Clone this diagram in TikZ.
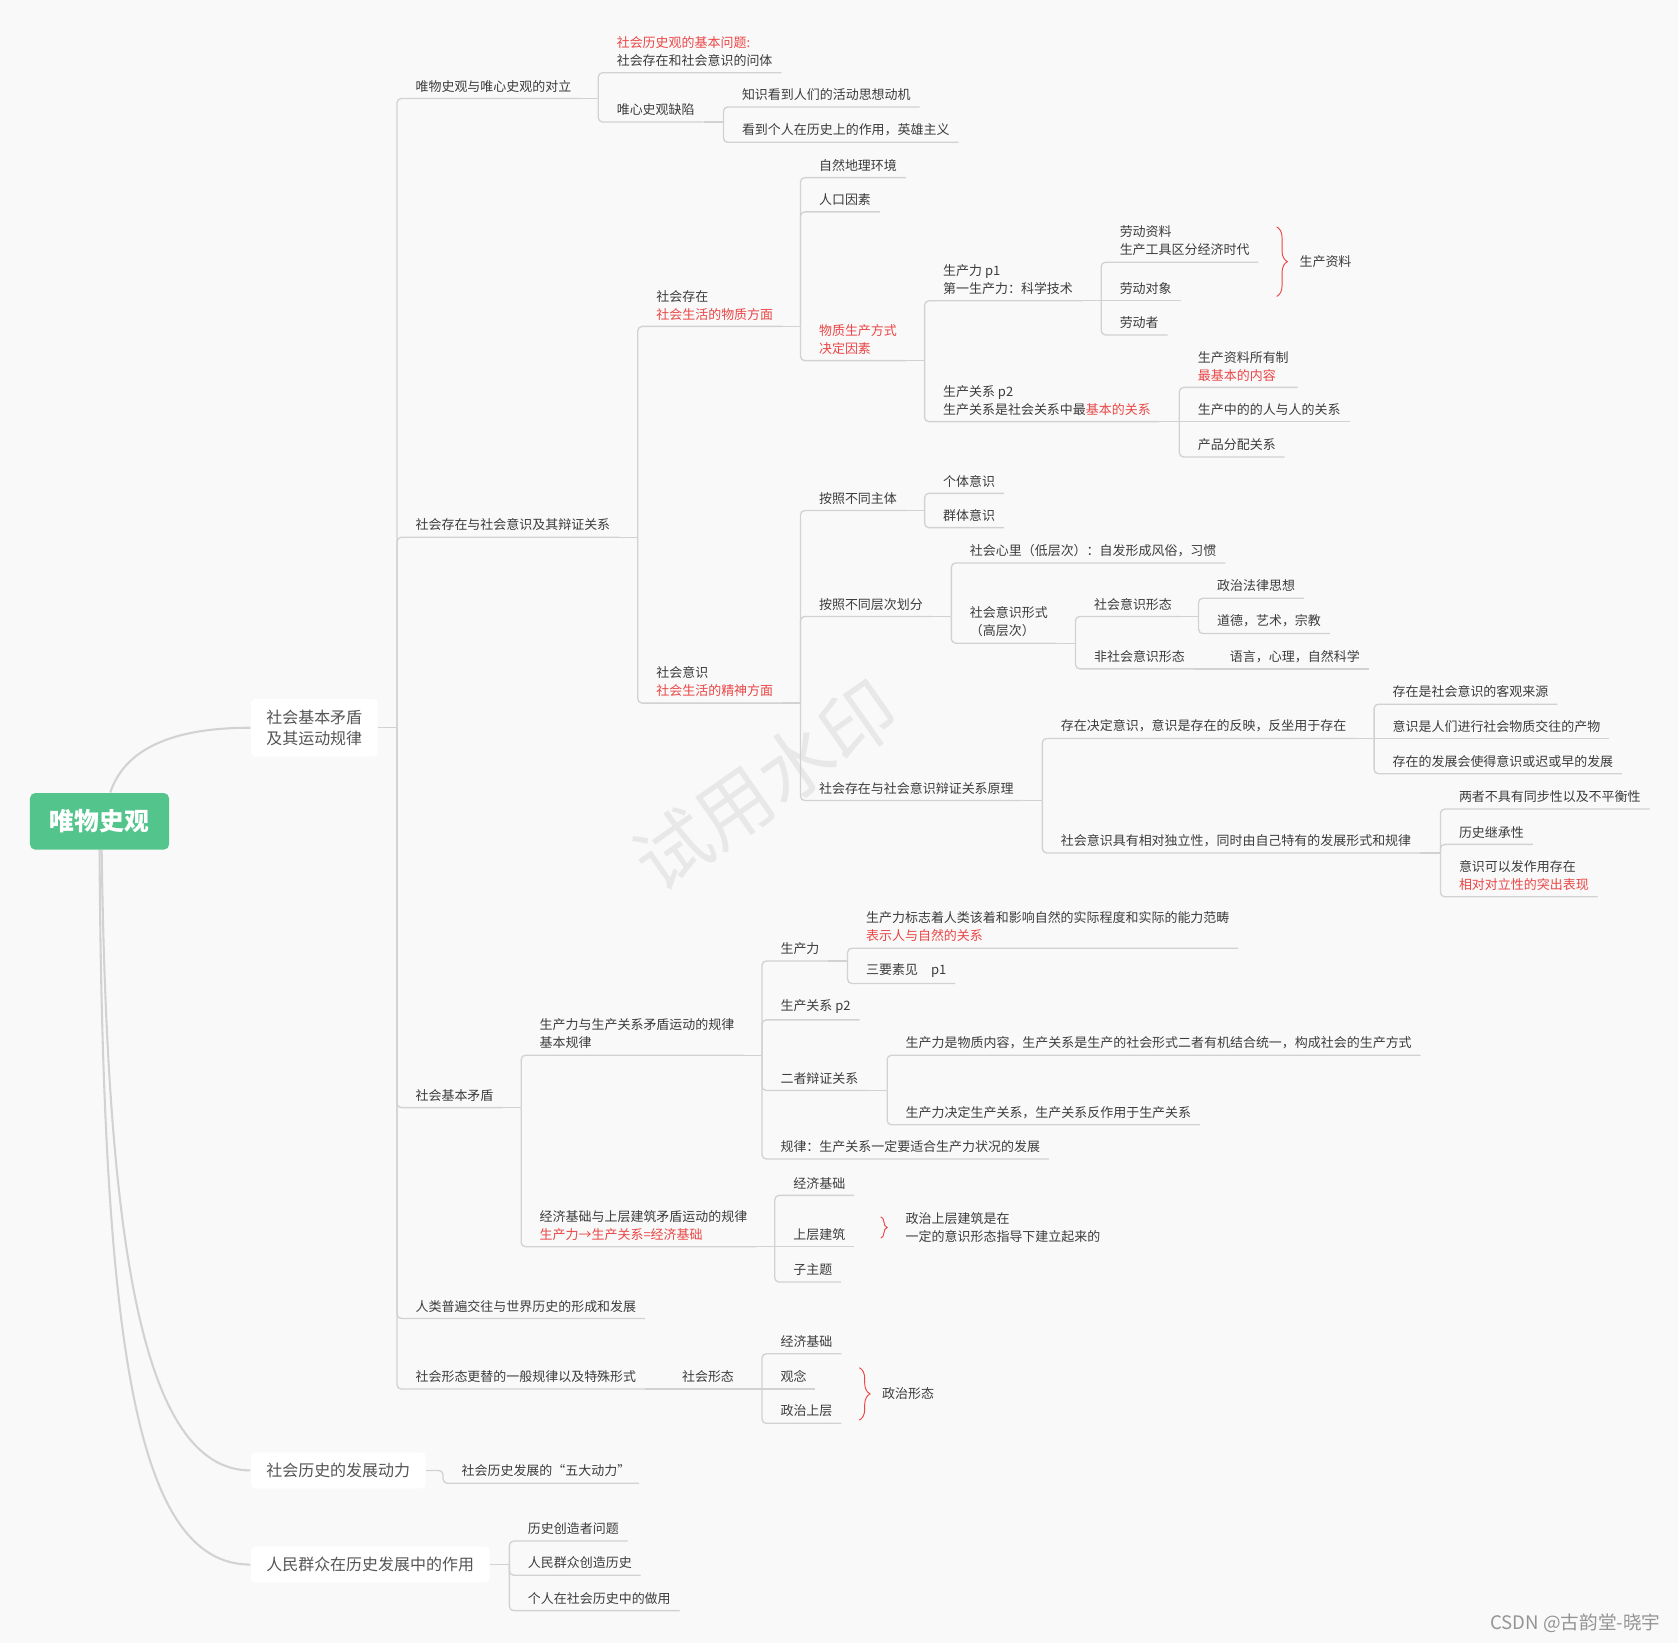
\documentclass[tikz,border=0pt]{standalone}
\usepackage{fontspec}
\setmainfont{Noto Sans CJK SC}
\usepackage{tikz}
\usetikzlibrary{decorations.pathreplacing}
\definecolor{bgc}{RGB}{249,249,249}
\definecolor{txt}{RGB}{60,60,60}
\definecolor{toptxt}{RGB}{85,85,85}
\definecolor{hl}{RGB}{234,70,70}
\definecolor{lnc}{RGB}{210,210,210}
\definecolor{rootc}{RGB}{82,196,140}
\newcommand{\redtxt}[1]{\textcolor{hl}{#1}}

\begin{document}
\begin{tikzpicture}[x=0.02cm,y=-0.02cm,
 root/.style={fill=rootc,rounded corners=0.1cm,text=white,minimum width=2.6cm,minimum height=1.06cm,font=\fontsize{13.2}{13.2}\selectfont\bfseries},
 topic/.style={anchor=west,fill=white,rounded corners=0.08cm,inner xsep=0.29cm,inner ysep=0.2cm,align=center,text=toptxt,font=\fontsize{8.5}{11.4}\selectfont},
 item/.style={anchor=south west,inner xsep=0.16cm,inner ysep=0.11cm,align=left,text=txt,font=\fontsize{6.9}{9.6}\selectfont},
 note/.style={anchor=west,inner xsep=0.16cm,align=left,text=txt,font=\fontsize{6.9}{9.6}\selectfont},
 link/.style={draw=lnc,line width=0.7pt,rounded corners=0.08cm},
 trunk/.style={draw=lnc,line width=1.1pt},
 brc/.style={draw=hl,line width=0.5pt,decorate,decoration={brace,amplitude=0.2cm}}]
\useasboundingbox (0,0) rectangle (1568,1535);
\fill [bgc] (0,0) rectangle (1568,1535);

\node [rotate=35,text=black!9,font=\fontsize{40}{40}\selectfont] (WM) at (715,734) {试用水印};

% main topics
\node [root] (R) at (93,767.5) {唯物史观};
\node [topic] (A) at (234,680) {社会基本矛盾\\及其运动规律};
\node [topic] (B) at (234,1374) {社会历史的发展动力};
\node [topic] (C) at (234,1462) {人民群众在历史发展中的作用};
\draw [trunk] (R.north) ++(10,0) .. controls +(15,-45) and +(-65,0) .. (A.west);
\draw [trunk] (R.south) ++(2,0) .. controls +(5,356) and +(-104,0) .. (B.west);
\draw [trunk] (R.south) .. controls +(3,456) and +(-109,0) .. (C.west);

% junctions
\coordinate (JA) at (371,680);
\coordinate (JA1) at (559,92);
\coordinate (JA12) at (676,114);
\coordinate (JA2) at (596,502);
\coordinate (JA21) at (748,305);
\coordinate (JA213) at (864,337);
\coordinate (JA2131) at (1029,281);
\coordinate (JA2132) at (1102,394);
\coordinate (JA22) at (748,657);
\coordinate (JA221) at (864,477);
\coordinate (JA222) at (889,576);
\coordinate (JA2222) at (1005,601);
\coordinate (JA22221) at (1120,576);
\coordinate (JA22222) at (1132,625);
\coordinate (JA223) at (974,748);
\coordinate (JA2231) at (1284,690);
\coordinate (JA2232) at (1346,797);
\coordinate (JA3) at (487,1035);
\coordinate (JA31) at (712,986);
\coordinate (JA311) at (792,898);
\coordinate (JA313) at (829,1019);
\coordinate (JA32) at (724,1165);
\coordinate (JA5) at (620,1298);
\coordinate (JA51) at (712,1298);
\coordinate (JB) at (414,1374);
\coordinate (JC) at (476,1462);

% 社会基本矛盾及其运动规律
\node [item] (A1) at (380,92) {唯物史观与唯心史观的对立};
\node [item] (A2) at (380,502) {社会存在与社会意识及其辩证关系};
\node [item] (A3) at (380,1035) {社会基本矛盾};
\node [item] (A4) at (380,1232) {人类普遍交往与世界历史的形成和发展};
\node [item] (A5) at (380,1298) {社会形态更替的一般规律以及特殊形式};
\draw [link] (A.east) -- (JA);
\draw [link] (JA) |- (A1.south west) -- (A1.south east);
\draw [link] (JA) |- (A2.south west) -- (A2.south east);
\draw [link] (JA) |- (A3.south west) -- (A3.south east);
\draw [link] (JA) |- (A4.south west) -- (A4.south east);
\draw [link] (JA) |- (A5.south west) -- (A5.south east);

\node [item] (A11) at (568,68) {\redtxt{社会历史观的基本问题:}\\社会存在和社会意识的问体};
\node [item] (A12) at (568,114) {唯心史观缺陷};
\node [item] (A121) at (685,100) {知识看到人们的活动思想动机};
\node [item] (A122) at (685,133) {看到个人在历史上的作用，英雄主义};
\draw [link] (A1.south east) -- (JA1);
\draw [link] (JA1) |- (A11.south west) -- (A11.south east);
\draw [link] (JA1) |- (A12.south west) -- (A12.south east);
\draw [link] (A12.south east) -- (JA12);
\draw [link] (JA12) |- (A121.south west) -- (A121.south east);
\draw [link] (JA12) |- (A122.south west) -- (A122.south east);

% 社会存在
\node [item] (A21) at (605,305) {社会存在\\\redtxt{社会生活的物质方面}};
\node [item] (A22) at (605,657) {社会意识\\\redtxt{社会生活的精神方面}};
\draw [link] (A2.south east) -- (JA2);
\draw [link] (JA2) |- (A21.south west) -- (A21.south east);
\draw [link] (JA2) |- (A22.south west) -- (A22.south east);

\node [item] (A211) at (757,166) {自然地理环境};
\node [item] (A212) at (757,198) {人口因素};
\node [item] (A213) at (757,337) {\redtxt{物质生产方式}\\\redtxt{决定因素}};
\draw [link] (A21.south east) -- (JA21);
\draw [link] (JA21) |- (A211.south west) -- (A211.south east);
\draw [link] (JA21) |- (A212.south west) -- (A212.south east);
\draw [link] (JA21) |- (A213.south west) -- (A213.south east);

\node [item] (A2131) at (873,281) {生产力 p1\\第一生产力：科学技术};
\node [item] (A2132) at (873,394) {生产关系 p2\\生产关系是社会关系中最\redtxt{基本的关系}};
\draw [link] (A213.south east) -- (JA213);
\draw [link] (JA213) |- (A2131.south west) -- (A2131.south east);
\draw [link] (JA213) |- (A2132.south west) -- (A2132.south east);

\node [item] (A21311) at (1038,245) {劳动资料\\生产工具区分经济时代};
\node [item] (A21312) at (1038,281) {劳动对象};
\node [item] (A21313) at (1038,313) {劳动者};
\draw [link] (A2131.south east) -- (JA2131);
\draw [link] (JA2131) |- (A21311.south west) -- (A21311.south east);
\draw [link] (JA2131) -- (A21312.south east);
\draw [link] (JA2131) |- (A21313.south west) -- (A21313.south east);
\coordinate (BR1a) at (1193,212);
\coordinate (BR1b) at (1193,277);
\draw [brc] (BR1a) -- (BR1b);
\node [note] (A2131z) at (1206,244) {生产资料};

\node [item] (A21321) at (1111,362) {生产资料所有制\\\redtxt{最基本的内容}};
\node [item] (A21322) at (1111,394) {生产中的的人与人的关系};
\node [item] (A21323) at (1111,427) {产品分配关系};
\draw [link] (A2132.south east) -- (JA2132);
\draw [link] (JA2132) |- (A21321.south west) -- (A21321.south east);
\draw [link] (JA2132) -- (A21322.south east);
\draw [link] (JA2132) |- (A21323.south west) -- (A21323.south east);

% 社会意识
\node [item] (A221) at (757,477) {按照不同主体};
\node [item] (A222) at (757,576) {按照不同层次划分};
\node [item] (A223) at (757,748) {社会存在与社会意识辩证关系原理};
\draw [link] (A22.south east) -- (JA22);
\draw [link] (JA22) |- (A221.south west) -- (A221.south east);
\draw [link] (JA22) |- (A222.south west) -- (A222.south east);
\draw [link] (JA22) |- (A223.south west) -- (A223.south east);

\node [item] (A2211) at (873,461) {个体意识};
\node [item] (A2212) at (873,493) {群体意识};
\draw [link] (A221.south east) -- (JA221);
\draw [link] (JA221) |- (A2211.south west) -- (A2211.south east);
\draw [link] (JA221) |- (A2212.south west) -- (A2212.south east);

\node [item] (A2221) at (898,526) {社会心里（低层次）：自发形成风俗，习惯};
\node [item] (A2222) at (898,601) {社会意识形式\\（高层次）};
\draw [link] (A222.south east) -- (JA222);
\draw [link] (JA222) |- (A2221.south west) -- (A2221.south east);
\draw [link] (JA222) |- (A2222.south west) -- (A2222.south east);

\node [item] (A22221) at (1014,576) {社会意识形态};
\node [item] (A22222) at (1014,625) {非社会意识形态};
\draw [link] (A2222.south east) -- (JA2222);
\draw [link] (JA2222) |- (A22221.south west) -- (A22221.south east);
\draw [link] (JA2222) |- (A22222.south west) -- (A22222.south east);

\node [item] (A222211) at (1129,559) {政治法律思想};
\node [item] (A222212) at (1129,592) {道德，艺术，宗教};
\node [item] (A222221) at (1141,625) {语言，心理，自然科学};
\draw [link] (A22221.south east) -- (JA22221);
\draw [link] (JA22221) |- (A222211.south west) -- (A222211.south east);
\draw [link] (JA22221) |- (A222212.south west) -- (A222212.south east);
\draw [link] (A22222.south east) -- (JA22222) -- (A222221.south east);

\node [item] (A2231) at (983,690) {存在决定意识，意识是存在的反映，反坐用于存在};
\node [item] (A2232) at (983,797) {社会意识具有相对独立性，同时由自己特有的发展形式和规律};
\draw [link] (A223.south east) -- (JA223);
\draw [link] (JA223) |- (A2231.south west) -- (A2231.south east);
\draw [link] (JA223) |- (A2232.south west) -- (A2232.south east);

\node [item] (A22311) at (1293,658) {存在是社会意识的客观来源};
\node [item] (A22312) at (1293,690) {意识是人们进行社会物质交往的产物};
\node [item] (A22313) at (1293,723) {存在的发展会使得意识或迟或早的发展};
\draw [link] (A2231.south east) -- (JA2231);
\draw [link] (JA2231) |- (A22311.south west) -- (A22311.south east);
\draw [link] (JA2231) -- (A22312.south east);
\draw [link] (JA2231) |- (A22313.south west) -- (A22313.south east);

\node [item] (A22321) at (1355,756) {两者不具有同步性以及不平衡性};
\node [item] (A22322) at (1355,789) {历史继承性};
\node [item] (A22323) at (1355,838) {意识可以发作用存在\\\redtxt{相对对立性的突出表现}};
\draw [link] (A2232.south east) -- (JA2232);
\draw [link] (JA2232) |- (A22321.south west) -- (A22321.south east);
\draw [link] (JA2232) |- (A22322.south west) -- (A22322.south east);
\draw [link] (JA2232) |- (A22323.south west) -- (A22323.south east);

% 社会基本矛盾
\node [item] (A31) at (496,986) {生产力与生产关系矛盾运动的规律\\基本规律};
\node [item] (A32) at (496,1165) {经济基础与上层建筑矛盾运动的规律\\\redtxt{生产力→生产关系=经济基础}};
\draw [link] (A3.south east) -- (JA3);
\draw [link] (JA3) |- (A31.south west) -- (A31.south east);
\draw [link] (JA3) |- (A32.south west) -- (A32.south east);

\node [item] (A311) at (721,898) {生产力};
\node [item] (A312) at (721,953) {生产关系 p2};
\node [item] (A313) at (721,1019) {二者辩证关系};
\node [item] (A314) at (721,1083) {规律：生产关系一定要适合生产力状况的发展};
\draw [link] (A31.south east) -- (JA31);
\draw [link] (JA31) |- (A311.south west) -- (A311.south east);
\draw [link] (JA31) |- (A312.south west) -- (A312.south east);
\draw [link] (JA31) |- (A313.south west) -- (A313.south east);
\draw [link] (JA31) |- (A314.south west) -- (A314.south east);

\node [item] (A3111) at (801,886) {生产力标志着人类该着和影响自然的实际程度和实际的能力范畴\\\redtxt{表示人与自然的关系}};
\node [item] (A3112) at (801,919) {三要素见\quad p1};
\draw [link] (A311.south east) -- (JA311);
\draw [link] (JA311) |- (A3111.south west) -- (A3111.south east);
\draw [link] (JA311) |- (A3112.south west) -- (A3112.south east);

\node [item] (A3131) at (838,986) {生产力是物质内容，生产关系是生产的社会形式二者有机结合统一，构成社会的生产方式};
\node [item] (A3132) at (838,1051) {生产力决定生产关系，生产关系反作用于生产关系};
\draw [link] (A313.south east) -- (JA313);
\draw [link] (JA313) |- (A3131.south west) -- (A3131.south east);
\draw [link] (JA313) |- (A3132.south west) -- (A3132.south east);

\node [item] (A321) at (733,1117) {经济基础};
\node [item] (A322) at (733,1165) {上层建筑};
\node [item] (A323) at (733,1198) {子主题};
\draw [link] (A32.south east) -- (JA32);
\draw [link] (JA32) |- (A321.south west) -- (A321.south east);
\draw [link] (JA32) -- (A322.south east);
\draw [link] (JA32) |- (A323.south west) -- (A323.south east);
\coordinate (BR2a) at (823,1137);
\coordinate (BR2b) at (823,1157);
\draw [brc,decoration={amplitude=0.12cm}] (BR2a) -- (BR2b);
\node [note] (A32z) at (838,1147) {政治上层建筑是在\\一定的意识形态指导下建立起来的};

% 社会形态
\node [item] (A51) at (629,1298) {社会形态};
\draw [link] (A5.south east) -- (JA5) -- (A51.south east);
\node [item] (A511) at (721,1265) {经济基础};
\node [item] (A512) at (721,1298) {观念};
\node [item] (A513) at (721,1330) {政治上层};
\draw [link] (A51.south east) -- (JA51);
\draw [link] (JA51) |- (A511.south west) -- (A511.south east);
\draw [link] (JA51) -- (A512.south east);
\draw [link] (JA51) |- (A513.south west) -- (A513.south east);
\coordinate (BR3a) at (803,1278);
\coordinate (BR3b) at (803,1327);
\draw [brc] (BR3a) -- (BR3b);
\node [note] (A51z) at (816,1302) {政治形态};

% 社会历史的发展动力
\node [item] (B1) at (423,1386) {社会历史发展的“五大动力”};
\draw [link] (B.east) -- (JB) |- (B1.south west) -- (B1.south east);

% 人民群众
\node [item] (C1) at (485,1440) {历史创造者问题};
\node [item] (C2) at (485,1472) {人民群众创造历史};
\node [item] (C3) at (485,1505) {个人在社会历史中的做用};
\draw [link] (C.east) -- (JC);
\draw [link] (JC) |- (C1.south west) -- (C1.south east);
\draw [link] (JC) |- (C2.south west) -- (C2.south east);
\draw [link] (JC) |- (C3.south west) -- (C3.south east);

\node [text=black!42,font=\fontsize{9.9}{9.9}\selectfont] (CS) at (1472,1517) {CSDN @古韵堂-晓宇};
\end{tikzpicture}
\end{document}
